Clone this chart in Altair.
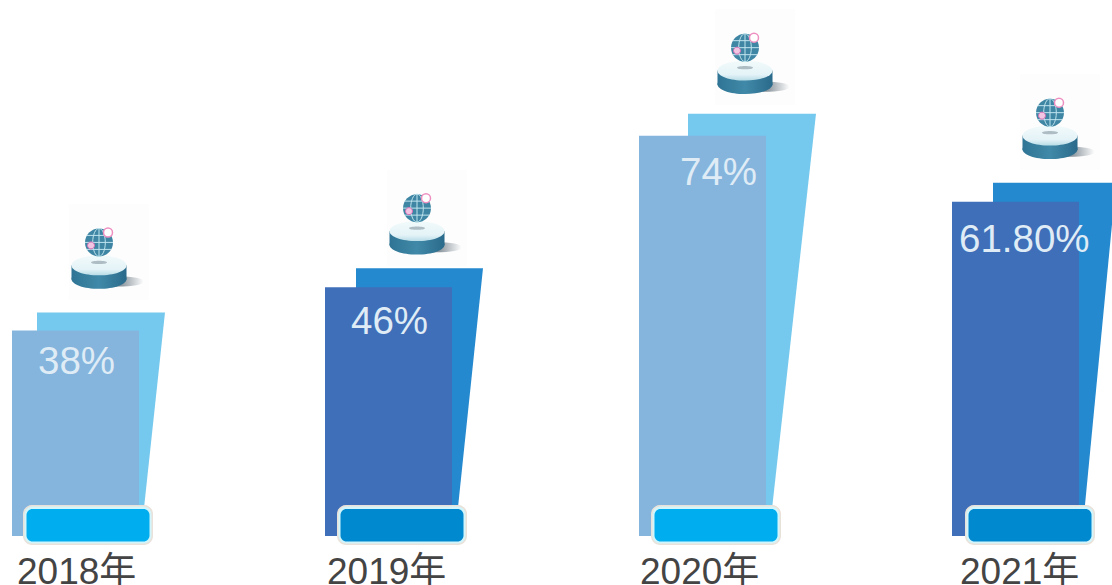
import altair as alt
import pandas as pd

years = ["2018年", "2019年", "2020年", "2021年"]
shares = [38, 46, 74, 61.8]
share_labels = ["38%", "46%", "74%", "61.80%"]
tones = ["light", "dark", "light", "dark"]

W, H = 1112, 585
BASE = 536            # pixel row of the zero line
UNIT = 5.41           # pixels per percentage point

# horizontal layout of each column, in chart pixels
front_left = [12, 325, 639, 952]
back_left = [37, 356, 688, 993]
back_right_top = [165, 483, 816, 1116]
back_right_foot = [141, 455, 769, 1082]
back_lift = [18, 19, 22, 19]
badge_left = [23, 337, 651, 965]
label_left = [38, 351, 680, 959]
label_drop = [44, 47, 49, 50]
year_left = [17, 327, 640, 960]
globe_x = [99, 417, 745, 1050]
globe_lift = [70, 60, 66, 70]
BAR_W = 127
BADGE_W = 130

front_colors = {"light": "#85b5dd", "dark": "#3f6fb8"}
back_colors = {"light": "#75c9ee", "dark": "#2589cf"}
badge_colors = {"light": "#00aeef", "dark": "#0089cf"}


def level(px):
    """Convert a pixel row to a value on the percentage scale."""
    return (BASE - px) / UNIT


x_scale = alt.Scale(domain=[0, W], range=[0, W], nice=False, zero=False)
y_scale = alt.Scale(domain=[level(H), level(0)], range=[H, 0], nice=False, zero=False)
X = alt.X("x:Q", scale=x_scale, axis=None)
Y = alt.Y("y:Q", scale=y_scale, axis=None, stack=None)

rows = []
back_rows = []
for i, year in enumerate(years):
    top = shares[i]
    back_top = top + back_lift[i] / UNIT
    rows.append({
        "year": year,
        "share": top,
        "label": share_labels[i],
        "x": front_left[i],
        "x2": front_left[i] + BAR_W,
        "y": top,
        "y2": 0,
        "front": front_colors[tones[i]],
        "badge": badge_colors[tones[i]],
        "bx": badge_left[i],
        "bx2": badge_left[i] + BADGE_W,
        "gxl": badge_left[i] + 1.5,
        "gxr": badge_left[i] + BADGE_W - 1.5,
        "ix": badge_left[i] + 3.5,
        "ix2": badge_left[i] + BADGE_W - 3.5,
        "lx": label_left[i],
        "ly": top - label_drop[i] / UNIT,
        "yx": year_left[i],
        "gx": globe_x[i],
        "gy": back_top + globe_lift[i] / UNIT,
    })
    for px, low in [(back_left[i], 0), (back_right_foot[i], 0), (back_right_top[i], back_top)]:
        back_rows.append({"year": year, "x": px, "y": back_top, "y2": low})

df = pd.DataFrame(rows)
back_df = pd.DataFrame(back_rows)
base = alt.Chart(df)

# the slanted sheet behind each bar: an area that closes to a point on its right edge
backs = alt.layer(*[
    alt.Chart(back_df[back_df["year"] == year]).mark_area(
        clip=True, interpolate="linear", orient="vertical", color=back_colors[tone]
    ).encode(x=X, y=Y, y2="y2:Q")
    for year, tone in zip(years, tones)
])
fronts = base.mark_rect().encode(
    x=X, x2="x2:Q", y=Y, y2="y2:Q", color=alt.Color("front:N", scale=None)
)


def badge(left, right, top_px, foot_px, radius, **paint):
    return base.transform_calculate(by=str(level(top_px)), by2=str(level(foot_px))).mark_rect(
        cornerRadius=radius, **paint
    ).encode(
        x=alt.X(f"{left}:Q", scale=x_scale, axis=None),
        x2=f"{right}:Q",
        y=alt.Y("by:Q", scale=y_scale, axis=None),
        y2="by2:Q",
    )


badge_rim = badge("bx", "bx2", 505, 545, 9, fill="#e9e2da")
badge_glow = badge("gxl", "gxr", 506.5, 543.5, 8, fill="#d2f5fb")
badge_fill = base.transform_calculate(by=str(level(509)), by2=str(level(541.5))).mark_rect(
    cornerRadius=6
).encode(
    x=alt.X("ix:Q", scale=x_scale, axis=None),
    x2="ix2:Q",
    y=alt.Y("by:Q", scale=y_scale, axis=None),
    y2="by2:Q",
    color=alt.Color("badge:N", scale=None),
)

labels = base.mark_text(
    align="left", baseline="alphabetic", font="Liberation Sans", fontSize=38.5, color="#dfecf6"
).encode(x=alt.X("lx:Q", scale=x_scale, axis=None), y=alt.Y("ly:Q", scale=y_scale, axis=None), text="label:N")

year_labels = base.transform_calculate(ty=str(level(583.5))).mark_text(
    align="left", baseline="alphabetic", font="Liberation Sans, Noto Sans CJK SC",
    fontSize=37, color="#444444"
).encode(x=alt.X("yx:Q", scale=x_scale, axis=None), y=alt.Y("ty:Q", scale=y_scale, axis=None), text="year:N")

# pedestal and globe symbol, built from unit-sized paths anchored on the globe centre
ELLIPSE = "M-1,0A1,1 0 1,1 1,0A1,1 0 1,1 -1,0Z"
FLAT = "M-1,0A1,0.36 0 1,1 1,0A1,0.36 0 1,1 -1,0Z"
SLIVER = "M-1,0A1,0.2 0 1,1 1,0A1,0.2 0 1,1 -1,0Z"
CYLINDER = "M-1,-0.26L-1,0.26L1,0.26L1,-0.26Z"
PANEL = "M-0.83,-1L0.83,-1L0.83,1L-0.83,1Z"
GRID = ("M-1,0L1,0M-0.87,-0.5L0.87,-0.5M-0.87,0.5L0.87,0.5"
        "M0,-1A0.45,1 0 0,1 0,1A0.45,1 0 0,1 0,-1M0,-1L0,1")


def glyph(shape, radius, dx=0, dy=0, **paint):
    return base.mark_point(
        shape=shape, size=(2 * radius) ** 2, xOffset=dx, yOffset=dy, opacity=1, **paint
    ).encode(
        x=alt.X("gx:Q", scale=x_scale, axis=None),
        y=alt.Y("gy:Q", scale=y_scale, axis=None),
    )


shadow_fill = alt.Gradient(
    gradient="linear", x1=0, x2=1, y1=0, y2=0,
    stops=[alt.GradientStop(offset=0, color="#55626c"),
           alt.GradientStop(offset=0.5, color="#7b8790"),
           alt.GradientStop(offset=1, color="#ffffff")],
)
body_fill = alt.Gradient(
    gradient="linear", x1=0, x2=1, y1=0, y2=0,
    stops=[alt.GradientStop(offset=0, color="#2f7494"),
           alt.GradientStop(offset=0.5, color="#4189a8"),
           alt.GradientStop(offset=1, color="#2a6a8b")],
)
top_fill = alt.Gradient(
    gradient="linear", x1=0, x2=0, y1=0, y2=1,
    stops=[alt.GradientStop(offset=0, color="#f2fafb"),
           alt.GradientStop(offset=0.7, color="#e4f3f7"),
           alt.GradientStop(offset=1, color="#b8dce7")],
)

panel = glyph(PANEL, 48, dx=10, dy=9.5, filled=True, fill="#fdfdfd", strokeOpacity=0)

icon = [
    glyph(SLIVER, 26, dx=19, dy=39, filled=True, fill=shadow_fill, strokeOpacity=0),
    glyph(CYLINDER, 27.5, dy=30, filled=True, fill=body_fill, strokeOpacity=0),
    glyph(FLAT, 27.5, dy=36.5, filled=True, fill=body_fill, strokeOpacity=0),
    glyph(FLAT, 27.5, dy=23, filled=True, fill=top_fill, strokeOpacity=0),
    glyph(SLIVER, 8, dy=20, filled=True, fill="#aebcc4", strokeOpacity=0),
    glyph(ELLIPSE, 14, filled=True, fill="#3f86a4", strokeOpacity=0),
    glyph(GRID, 14, filled=False, stroke="#bfe4ee", strokeWidth=1),
    glyph(ELLIPSE, 4.5, dx=9, dy=-10, filled=True, fill="#ffffff", stroke="#ee8fc0", strokeWidth=1.5),
    glyph(ELLIPSE, 3.5, dx=-8, dy=3, filled=True, fill="#f2c6e2", stroke="#d66fb5", strokeWidth=1),
]

chart = alt.layer(
    panel, backs, fronts, badge_rim, badge_glow, badge_fill, labels, year_labels, *icon
).properties(
    width=W,
    height=H,
    padding=0,
    autosize=alt.AutoSizeParams(type="none"),
    background="white",
).configure_view(stroke=None)

chart.save("out.html", embed_options={"renderer": "svg", "actions": False})
